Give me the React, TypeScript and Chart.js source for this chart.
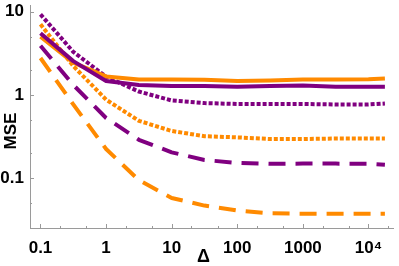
import React, { useEffect, useRef } from "react";
import { Chart, registerables } from "chart.js";

Chart.register(...registerables);

// Δ values (x)
const deltas = [0.1, 0.316, 1, 3.16, 10, 31.6, 100, 316, 1000, 3160, 10000, 17800];

// MSE series
const purpleSolid = [5.5, 2.55, 1.47, 1.32, 1.28, 1.28, 1.26, 1.28, 1.3, 1.26, 1.26, 1.26];
const orangeSolid = [5.0, 2.45, 1.67, 1.54, 1.54, 1.52, 1.47, 1.49, 1.53, 1.53, 1.55, 1.58];
const purpleDotted = [9.3, 3.3, 1.66, 1.1, 0.86, 0.8, 0.78, 0.78, 0.78, 0.77, 0.77, 0.79];
const orangeDotted = [7.06, 2.23, 0.88, 0.49, 0.37, 0.32, 0.31, 0.296, 0.296, 0.3, 0.3, 0.3];
const purpleDashed = [3.9, 1.32, 0.53, 0.29, 0.205, 0.166, 0.153, 0.149, 0.15, 0.15, 0.149, 0.145];
const orangeDashed = [2.78, 0.77, 0.225, 0.095, 0.058, 0.047, 0.041, 0.038, 0.0376, 0.0376, 0.0376, 0.0376];

// axis ticks
const xTickValues = [0.1, 1, 10, 100, 1000, 10000];
const xTickLabels = ["0.1", "1", "10", "100", "1000", "10\u2074"];
const yTickValues = [0.1, 1, 10];
const yTickLabels = ["0.1", "1", "10"];

const xTitle = "\u0394";
const yTitle = "MSE";

const ORANGE = "#ff8a00";
const PURPLE = "#800080";
const AXIS = "#9a9a9a";
const FONT = "'Liberation Sans', Arial, sans-serif";

function pts(ys: number[]) {
  return ys.map((y, i) => ({ x: deltas[i], y }));
}

const tickPlugin = {
  id: "innerTicks",
  beforeDatasetsDraw(chart: any) {
    const { ctx, chartArea, scales } = chart;
    const xs = scales.x;
    const ys = scales.y;
    ctx.save();
    ctx.strokeStyle = AXIS;
    ctx.lineWidth = 1;
    const drawX = (v: number, len: number) => {
      const px = Math.round(xs.getPixelForValue(v)) + 0.5;
      if (px < chartArea.left || px > chartArea.right) return;
      ctx.beginPath();
      ctx.moveTo(px, chartArea.bottom);
      ctx.lineTo(px, chartArea.bottom - len);
      ctx.stroke();
    };
    const drawY = (v: number, len: number) => {
      const py = Math.round(ys.getPixelForValue(v)) + 0.5;
      if (py < chartArea.top || py > chartArea.bottom) return;
      ctx.beginPath();
      ctx.moveTo(chartArea.left, py);
      ctx.lineTo(chartArea.left + len, py);
      ctx.stroke();
    };
    for (let k = -2; k <= 5; k++) {
      const base = Math.pow(10, k);
      drawX(base, 4);
      for (const m of [2, 5]) drawX(m * base, 2);
    }
    for (let k = -2; k <= 2; k++) {
      const base = Math.pow(10, k);
      drawY(base, 4);
      for (const m of [2, 5]) drawY(m * base, 2);
    }
    ctx.restore();
  },
  afterDraw(chart: any) {
    const { ctx } = chart;
    ctx.save();
    ctx.fillStyle = "#000";
    ctx.textAlign = "center";
    ctx.textBaseline = "middle";
    ctx.font = `bold 18px ${FONT}`;
    ctx.fillText(xTitle, 203.5, 257);
    ctx.font = `bold 17px ${FONT}`;
    ctx.translate(11, 131);
    ctx.rotate(-Math.PI / 2);
    ctx.fillText(yTitle, 0, 0);
    ctx.restore();
  },
};

export default function App() {
  const ref = useRef<HTMLCanvasElement | null>(null);
  useEffect(() => {
    if (!ref.current) return;
    const mk = (ys: number[], color: string, dash: number[]) => ({
      data: pts(ys),
      borderColor: color,
      backgroundColor: color,
      borderWidth: 4,
      borderDash: dash,
      borderCapStyle: "butt",
      borderJoinStyle: "round",
      pointRadius: 0,
      tension: 0,
      fill: false,
    });
    const chart = new Chart(ref.current, {
      type: "line",
      data: {
        datasets: [
          mk(purpleSolid, PURPLE, []),
          mk(orangeSolid, ORANGE, []),
          mk(purpleDotted, PURPLE, [4, 2]),
          mk(orangeDotted, ORANGE, [4, 2]),
          mk(purpleDashed, PURPLE, [17, 10]),
          mk(orangeDashed, ORANGE, [17, 10]),
        ] as any,
      },
      options: {
        responsive: false,
        animation: false,
        devicePixelRatio: 1,
        layout: { padding: { top: 5, right: 6, left: 0, bottom: 0 } },
        plugins: { legend: { display: false }, tooltip: { enabled: false } },
        scales: {
          x: {
            type: "logarithmic",
            min: 0.0692,
            max: 23650,
            grid: { display: false, drawTicks: false, tickLength: 0 },
            border: { display: true, color: AXIS, width: 1 },
            afterBuildTicks: (s: any) => {
              s.ticks = xTickValues.map((v) => ({ value: v }));
            },
            afterFit: (s: any) => {
              s.height = 38;
              s.paddingLeft = 0;
              s.paddingRight = 0;
              s.paddingTop = 0;
              s.paddingBottom = 0;
            },
            ticks: {
              autoSkip: false,
              maxRotation: 0,
              padding: 10,
              color: "#000",
              font: { family: FONT, size: 17, weight: "bold" },
              callback: (v: any) => {
                const i = xTickValues.indexOf(Number(v));
                return i >= 0 ? xTickLabels[i] : "";
              },
            },
          },
          y: {
            type: "logarithmic",
            min: 0.0253,
            max: 12.04,
            grid: { display: false, drawTicks: false, tickLength: 0 },
            border: { display: true, color: AXIS, width: 1 },
            afterBuildTicks: (s: any) => {
              s.ticks = yTickValues.map((v) => ({ value: v }));
            },
            afterFit: (s: any) => {
              s.width = 30;
              s.paddingLeft = 0;
              s.paddingRight = 0;
              s.paddingTop = 0;
              s.paddingBottom = 0;
            },
            ticks: {
              autoSkip: false,
              padding: 6,
              color: "#000",
              font: { family: FONT, size: 17, weight: "bold" },
              callback: (v: any) => {
                const i = yTickValues.indexOf(Number(v));
                return i >= 0 ? yTickLabels[i] : "";
              },
            },
          },
        },
      } as any,
      plugins: [tickPlugin],
    });
    return () => chart.destroy();
  }, []);
  return (
    <div style={{ position: "fixed", left: 0, top: 0, width: 399, height: 266, background: "#fff" }}>
      <canvas ref={ref} width={399} height={266} style={{ width: 399, height: 266 }} />
    </div>
  );
}
